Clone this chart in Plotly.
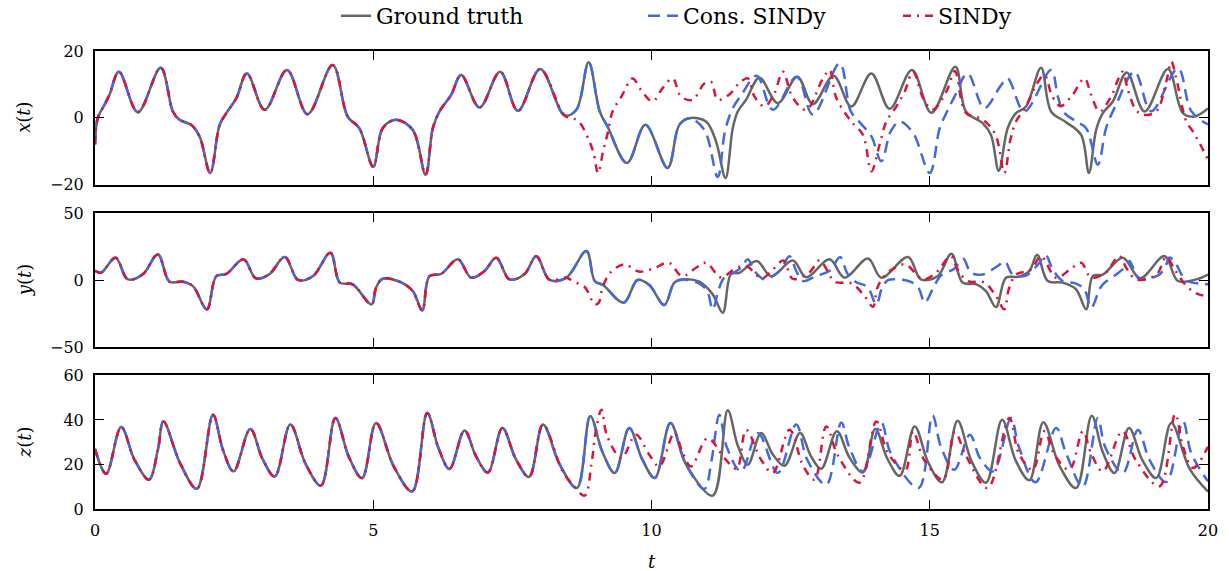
import plotly.graph_objects as go

# ---------------- data ----------------
# Ground truth x(t)
gt_x_t = [0, 0.05, 0.17, 0.26, 0.43, 0.77, 1.18, 1.40, 1.52, 1.73, 1.88, 2.07, 2.24, 2.36, 2.54, 2.73,
          3.05, 3.45, 3.82, 4.27, 4.54, 4.75, 5.00, 5.17, 5.41, 5.71, 5.94, 6.07, 6.19, 6.40, 6.58,
          6.91, 7.28, 7.60, 8.00, 8.44, 8.65, 8.87, 9.07, 9.21, 9.56, 9.89, 10.29, 10.50, 10.68,
          10.98, 11.16, 11.33, 11.46, 11.55, 11.70, 11.94, 12.27, 12.62, 12.90, 13.27, 13.59, 13.95,
          14.28, 14.68, 15.03, 15.46, 15.65, 15.95, 16.10, 16.24, 16.40, 16.55, 16.73, 17.00, 17.18,
          17.45, 17.72, 17.86, 17.99, 18.11, 18.29, 18.54, 18.86, 19.28, 19.55, 19.76, 20.0]
gt_x = [-8, 0, 3.9, 6.9, 13.8, 1.7, 15.0, 1.9, -0.6, -2.1, -5.6, -16.5, -2.1, 1.4, 5.9, 13.3,
        2.4, 14.3, 1.1, 15.8, 0.4, -3.1, -14.6, -3.1, -0.6, -3.6, -17.0, -3.1, 1.9, 6.9, 12.8,
        3.1, 13.8, 2.1, 14.6, 0.7, 2.4, 16.6, 1.9, -2.6, -13.5, -2.1, -15.0, -2.1, -0.1,
        -1.1, -7.1, -18.0, -3.1, 1.9, 5.4, 12.0, 4.4, 12.3, 4.1, 12.6, 3.4, 13.3,
        2.7, 14.3, 1.5, 15.3, 1.9, -1.6, -5.1, -15.8, -3.1, 1.4, 3.4, 15.0, 1.9,
        -1.3, -5.1, -16.5, -3.6, 1.4, 4.9, 13.6, 1.9, 14.6, 1.4, 0.4, 2.8]

cons_x_tail_t = [10.95, 11.19, 11.32, 11.45, 11.62, 11.89, 12.18, 12.61, 12.90, 13.38, 13.58, 13.75,
                 13.95, 14.13, 14.30, 14.46, 14.70, 15.00, 15.18, 15.30, 15.45, 15.68, 15.98, 16.27,
                 16.40, 16.70, 17.18, 17.30, 17.40, 17.63, 17.81, 18.02, 18.17, 18.35, 18.68, 18.98,
                 19.46, 19.70, 20.0]
cons_x_tail = [-3.6, -17.7, -4.0, 2.5, 7.0, 12.6, 2.4, 12.3, 0.9, 16.3, 2.0, -1.5,
               -5.5, -13.0, -4.0, -1.1, -4.5, -16.5, -3.0, 1.5, 6.5, 13.3, 2.9, 9.5,
               11.8, 1.9, 14.3, 6.5, 1.9, -1.1, -3.1, -14.0, -3.0, 4.0, 13.8, 2.0,
               14.8, 2.0, -2.0]

sindy_x_tail_t = [8.68, 8.87, 8.96, 9.04, 9.13, 9.22, 9.30, 9.46, 9.66, 9.81, 10.02, 10.20, 10.38,
                  10.53, 10.74, 10.95, 11.07, 11.19, 11.40, 11.57, 11.73, 11.85, 12.03, 12.21,
                  12.36, 12.54, 12.78, 13.08, 13.20, 13.32, 13.59, 13.80, 13.95, 14.10, 14.22,
                  14.40, 14.55, 14.70, 14.88, 15.05, 15.30, 15.45, 15.65, 15.95, 16.18, 16.34,
                  16.45, 16.55, 16.73, 16.90, 17.06, 17.20, 17.35, 17.55, 17.78, 17.90, 18.05,
                  18.26, 18.38, 18.47, 18.56, 18.70, 18.83, 19.07, 19.25, 19.34, 19.43, 19.61,
                  19.73, 19.85, 20.0]
sindy_x_tail = [-0.9, -6.5, -10.6, -16.5, -10.0, -4.1, 1.9, 6.4, 11.8, 8.4, 4.9, 8.9, 11.8,
                6.4, 5.4, 10.3, 10.8, 5.4, 7.0, 10.3, 11.8, 6.4, 3.4, 7.4,
                13.8, 6.0, 2.4, 11.8, 14.3, 6.0, -1.1, -5.1, -16.0, -7.9, -1.1,
                3.4, 7.9, 13.8, 5.9, 2.4, 7.9, 14.0, 1.5, -0.5, -5.0, -16.5,
                -6.5, -1.1, 3.4, 9.5, 12.8, 6.5, 3.5, 6.5, 11.8, 6.9, 1.9,
                6.4, 11.3, 13.8, 8.4, 2.5, 0.9, 1.9, 10.8, 16.8, 11.8, -1.1,
                -4.1, -7.6, -12.5]

# Ground truth y(t)
gt_y_t = [0, 0.11, 0.37, 0.59, 0.86, 1.13, 1.34, 1.58, 1.76, 2.01, 2.18, 2.36, 2.67, 2.89, 3.13,
          3.41, 3.65, 3.92, 4.23, 4.40, 4.63, 4.97, 5.05, 5.17, 5.47, 5.71, 5.88, 6.01, 6.22, 6.52,
          6.76, 7.00, 7.21, 7.45, 7.72, 7.93, 8.17, 8.47, 8.83, 8.98, 9.13, 9.50, 9.75, 9.96, 10.23,
          10.41, 10.56, 10.86, 11.10, 11.28, 11.43, 11.58, 11.89, 12.15, 12.54, 12.78, 13.20, 13.47,
          13.89, 14.13, 14.61, 14.84, 15.14, 15.39, 15.59, 15.84, 16.01, 16.19, 16.37, 16.58, 16.79,
          16.93, 17.12, 17.39, 17.63, 17.81, 17.93, 18.11, 18.47, 18.78, 19.22, 19.46, 19.79, 20.0]
gt_y = [7, 5.7, 16.8, 0.6, 4.5, 19.3, -1.1, -1.1, -4.4, -21.8, 3.0, 4.7, 15.6, 1.4, 4.4,
        17.4, 0.2, 3.2, 20.6, -1.8, -3.1, -18.1, -5.6, 1.1, -1.1, -8.1, -22.6, 3.0, 4.7, 15.6,
        1.9, 6.9, 16.8, 0.6, 4.7, 18.0, 0.2, 1.9, 21.8, -0.6, -3.6, -16.8, 0.2, -3.6, -18.6,
        -1.8, 0.6, -1.1, -10.6, -24.3, 4.7, 5.5, 14.4, 3.0, 14.7, 2.2, 15.6, 1.9,
        16.3, 1.9, 17.4, 0.6, 3.0, 19.8, -1.8, -3.1, -8.1, -20.1, 1.9, 2.5, 7.0,
        19.1, -0.6, -1.8, -6.8, -21.8, 3.0, 4.2, 16.8, 1.4, 18.0, -0.6, 0.6, 4.2]

cons_y_tail_t = [10.86, 11.00, 11.10, 11.20, 11.30, 11.45, 11.60, 11.73, 11.85, 12.03, 12.30, 12.48,
                 12.60, 12.72, 12.95, 13.20, 13.39, 13.52, 13.68, 13.88, 14.04, 14.14, 14.25, 14.45,
                 14.65, 14.80, 14.91, 15.05, 15.20, 15.44, 15.60, 15.74, 15.95, 16.22, 16.35, 16.49,
                 16.73, 16.95, 17.08, 17.21, 17.39, 17.63, 17.78, 17.90, 18.05, 18.11, 18.35, 18.53,
                 18.59, 18.68, 18.77, 18.95, 19.13, 19.25, 19.31, 19.43, 19.49, 19.60, 19.73, 20.0]
cons_y_tail = [-2.5, -8.0, -21.9, -8.0, 1.5, 5.0, 9.0, 15.6, 7.0, 0.6, 7.0, 18.0,
               7.0, -0.6, 3.0, 7.0, 17.4, 5.0, -1.5, -5.0, -18.1, -6.0, 0.0, 0.5,
               -1.0, -6.0, -16.8, -7.0, 3.5, 8.5, 16.0, 5.7, 4.3, 10.6, 14.0, 4.3,
               3.5, 12.0, 19.0, 8.0, -0.6, -2.5, -7.0, -20.6, -6.8, -3.1, 4.3, 10.6,
               14.4, 6.9, 0.6, 1.5, 4.3, 11.9, 17.0, 11.9, 6.9, 0.0, -1.8, -3.0]

sindy_y_tail_t = [8.60, 8.80, 8.98, 9.05, 9.12, 9.26, 9.51, 9.77, 10.05, 10.31, 10.55, 10.80, 10.98,
                  11.25, 11.48, 11.70, 11.98, 12.18, 12.37, 12.54, 12.84, 13.02, 13.15, 13.29,
                  13.60, 13.83, 13.98, 14.06, 14.20, 14.55, 14.75, 14.88, 15.10, 15.38, 15.50,
                  15.68, 15.98, 16.19, 16.34, 16.42, 16.55, 16.82, 17.00, 17.27, 17.52, 17.72,
                  17.90, 18.17, 18.40, 18.55, 18.71, 19.07, 19.25, 19.40, 19.61, 19.80, 20.0]
sindy_y_tail = [-1.0, -5.1, -18.1, -17.0, -5.6, 5.7, 11.9, 6.5, 9.0, 13.1, 3.0, 9.3, 13.1,
                2.0, 8.0, 10.6, 1.4, 8.0, 14.7, 1.0, 6.0, 15.0, 8.0, -1.1,
                -2.5, -12.0, -19.8, -5.6, 4.0, 11.9, 5.0, 0.6, 5.0, 18.0, 8.0,
                -0.6, -1.8, -11.9, -21.8, -6.8, 4.2, 8.0, 18.0, 1.9, 8.0, 13.1,
                1.9, 6.0, 18.0, 8.0, 0.6, 4.0, 17.4, 8.0, -4.2, -10.0, -12.0]

# Ground truth z(t)  (peaks, troughs and points on the slower decays)
gt_z_t = [0, 0.20, 0.47, 0.71, 0.97, 1.13, 1.23, 1.53, 1.83, 2.12, 2.30, 2.49, 2.79, 3.01, 3.23,
          3.51, 3.78, 4.06, 4.32, 4.56, 4.80, 5.05, 5.37, 5.70, 5.97, 6.17, 6.37, 6.64, 6.85, 7.06,
          7.32, 7.56, 7.80, 8.05, 8.35, 8.66, 8.90, 9.12, 9.34, 9.60, 9.83, 10.06, 10.34, 10.62,
          11.10, 11.37, 11.55, 11.73, 11.97, 12.18, 12.39, 12.67, 12.86, 13.05, 13.33, 13.56,
          13.80, 14.02, 14.24, 14.46, 14.73, 14.97, 15.22, 15.50, 15.75, 16.01, 16.30, 16.54,
          16.79, 17.04, 17.33, 17.63, 17.91, 18.11, 18.32, 18.58, 18.82, 19.07, 19.34, 19.67, 20.0]
gt_z = [27, 15.8, 36.8, 22.1, 13.2, 26.6, 39.3, 20.5, 9.1, 42.3, 26.5, 16.9, 35.9, 22.5, 14.6,
        37.9, 20.5, 10.5, 40.9, 23.5, 13.9, 38.6, 19.0, 7.9, 43.1, 27.5, 18.0, 35.2, 23.5, 16.4,
        36.4, 22.5, 14.4, 37.9, 20.0, 9.4, 41.6, 25.5, 16.2, 36.4, 22.5, 13.9, 38.6, 20.0,
        6.0, 44.3, 28.5, 19.9, 34.1, 24.5, 19.4, 34.1, 24.0, 18.1, 34.9, 23.0,
        16.4, 35.9, 22.5, 14.9, 37.1, 21.0, 12.0, 39.6, 21.5, 11.8, 40.1, 22.0,
        12.9, 39.0, 19.5, 9.4, 41.9, 25.5, 16.2, 36.4, 22.0, 13.9, 38.6, 18.0, 7.8]

cons_z_tail_t = [10.62, 10.95, 11.08, 11.22, 11.35, 11.61, 11.91, 12.27, 12.60, 12.80, 13.14, 13.41,
                 13.55, 13.80, 14.13, 14.30, 14.80, 15.05, 15.20, 15.44, 15.72, 15.90, 16.14, 16.46,
                 16.60, 16.90, 17.27, 17.45, 17.75, 18.02, 18.15, 18.47, 18.74, 18.95, 19.25, 19.55,
                 19.70, 20.0]
cons_z_tail = [20.0, 9.0, 22.0, 42.3, 28.0, 16.9, 34.1, 16.2, 37.9, 22.0, 10.9, 38.9,
               28.0, 16.9, 38.6, 25.0, 9.4, 42.0, 28.0, 17.6, 33.4, 23.0, 16.9, 40.9,
               28.0, 12.0, 36.4, 25.0, 10.0, 40.9, 28.0, 16.2, 35.5, 22.0, 12.1, 39.4,
               25.0, 12.4]

sindy_z_tail_t = [8.40, 8.60, 8.80, 8.92, 9.00, 9.10, 9.20, 9.46, 9.72, 9.96, 10.14, 10.41, 10.56,
                  10.71, 11.01, 11.31, 11.53, 11.70, 11.97, 12.18, 12.48, 12.73, 12.93, 13.14,
                  13.35, 13.74, 14.04, 14.25, 14.56, 14.70, 14.90, 15.24, 15.45, 15.65, 16.04,
                  16.43, 16.60, 16.85, 17.06, 17.25, 17.51, 17.75, 17.90, 18.11, 18.46, 18.70,
                  19.13, 19.41, 19.55, 19.73, 20.0]
sindy_z_tail = [17.0, 10.5, 6.0, 20.0, 35.0, 44.6, 33.0, 22.9, 33.4, 24.4, 19.1, 34.1, 25.3,
                19.1, 31.8, 22.9, 18.1, 35.5, 22.1, 16.2, 35.6, 19.1, 13.2, 37.1,
                24.0, 11.8, 39.3, 25.0, 17.4, 34.9, 22.0, 13.2, 34.6, 24.0, 9.4,
                40.9, 25.0, 17.6, 34.9, 24.0, 17.6, 34.9, 25.0, 16.9, 34.9, 22.0,
                10.2, 42.7, 28.0, 18.4, 28.0]


def prefix(ts, vs, t_end):
    n = sum(1 for t in ts if t <= t_end)
    return list(ts[:n]), list(vs[:n])


# model curves coincide with the ground truth before they diverge
cx_t, cx = prefix(gt_x_t, gt_x, 10.68)
cons_x_t, cons_x = cx_t + cons_x_tail_t, cx + cons_x_tail
sx_t, sx = prefix(gt_x_t, gt_x, 8.44)
sindy_x_t, sindy_x = sx_t + sindy_x_tail_t, sx + sindy_x_tail

cy_t, cy = prefix(gt_y_t, gt_y, 10.56)
cons_y_t, cons_y = cy_t + cons_y_tail_t, cy + cons_y_tail
sy_t, sy = prefix(gt_y_t, gt_y, 8.47)
sindy_y_t, sindy_y = sy_t + sindy_y_tail_t, sy + sindy_y_tail

cz_t, cz = prefix(gt_z_t, gt_z, 10.34)
cons_z_t, cons_z = cz_t + cons_z_tail_t, cz + cons_z_tail
sz_t, sz = prefix(gt_z_t, gt_z, 8.05)
sindy_z_t, sindy_z = sz_t + sindy_z_tail_t, sz + sindy_z_tail

series_names = ["Ground truth", "Cons. SINDy", "SINDy"]
x_ticks = [0, 5, 10, 15, 20]

# ---------------- figure ----------------
FONT = "DejaVu Serif"
GREY = "#666666"
BLUE = "#4169E1"
RED = "#DC143C"

styles = [
    dict(color=GREY, width=2.5, dash="solid"),
    dict(color=BLUE, width=2.5, dash="12px,7px"),
    dict(color=RED, width=2.5, dash="8px,6px,2px,6px"),
]
legends = ["legend", "legend2", "legend3"]

panels = [
    ([gt_x_t, cons_x_t, sindy_x_t], [gt_x, cons_x, sindy_x]),
    ([gt_y_t, cons_y_t, sindy_y_t], [gt_y, cons_y, sindy_y]),
    ([gt_z_t, cons_z_t, sindy_z_t], [gt_z, cons_z, sindy_z]),
]

fig = go.Figure()
for p, (ts, vs) in enumerate(panels):
    sfx = "" if p == 0 else str(p + 1)
    for k in range(3):
        fig.add_trace(go.Scatter(
            x=ts[k], y=vs[k], mode="lines", name=series_names[k],
            line=dict(shape="spline", smoothing=1.0, **styles[k]),
            xaxis="x" + sfx, yaxis="y" + sfx,
            showlegend=(p == 0), legend=legends[k],
        ))

domains = [[0.7081, 1.0], [0.3537, 0.6454], [0.0, 0.2917]]
yranges = [[-20, 20], [-50, 50], [0, 60]]
yticks = [[-20, 0, 20], [-50, 0, 50], [0, 20, 40, 60]]

axis_common = dict(showline=True, linecolor="black", linewidth=2, mirror="ticks",
                   ticks="inside", ticklen=9, tickwidth=1.3, tickcolor="black",
                   showgrid=False, zeroline=False,
                   tickfont=dict(family=FONT, size=16, color="black"))

layout = dict(
    width=1229, height=571,
    margin=dict(l=95, r=21, t=51, b=62, autoexpand=False),
    plot_bgcolor="white", paper_bgcolor="white",
    font=dict(family=FONT, color="black"),
)
for p in range(3):
    sfx = "" if p == 0 else str(p + 1)
    layout["xaxis" + sfx] = dict(axis_common, range=[0, 20], tickvals=x_ticks,
                                 anchor="y" + sfx, domain=[0, 1],
                                 showticklabels=(p == 2), ticklabelstandoff=6)
    layout["yaxis" + sfx] = dict(axis_common, range=yranges[p], tickvals=yticks[p],
                                 anchor="x" + sfx, domain=domains[p], ticklabelstandoff=6)

# three legend entries placed across the top
leg_x = [336, 643, 898]
for k, lg in enumerate(legends):
    layout[lg] = dict(x=leg_x[k] / 1229, y=1 - 16 / 571, xref="container", yref="container",
                      xanchor="left", yanchor="middle", orientation="h",
                      font=dict(family=FONT, size=22, color="black"),
                      bgcolor="rgba(0,0,0,0)", borderwidth=0)

fig.update_layout(**layout)

# axis titles
ylabels = ["<i>x</i>(<i>t</i>)", "<i>y</i>(<i>t</i>)", "<i>z</i>(<i>t</i>)"]
for p in range(3):
    d0, d1 = domains[p]
    fig.add_annotation(text=ylabels[p], xref="paper", yref="paper", x=0, y=(d0 + d1) / 2,
                       xshift=-71, textangle=-90, showarrow=False,
                       font=dict(family=FONT, size=18, color="black"),
                       xanchor="center", yanchor="middle")
fig.add_annotation(text="<i>t</i>", xref="paper", yref="paper", x=0.5, y=0, yshift=-52,
                   showarrow=False, font=dict(family=FONT, size=18, color="black"),
                   xanchor="center", yanchor="middle")

fig.write_html("out.html")
